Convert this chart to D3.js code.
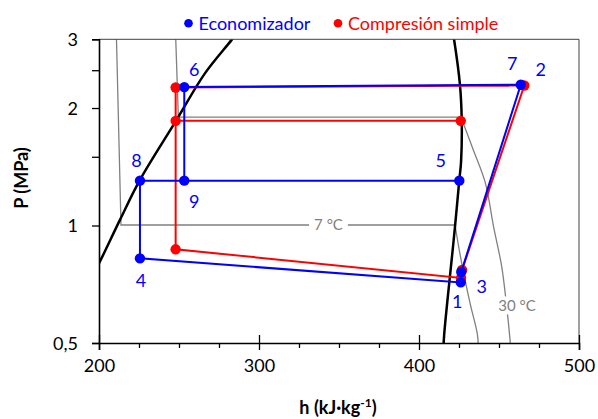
<!DOCTYPE html>
<html><head><meta charset="utf-8">
<script src="https://cdn.jsdelivr.net/npm/d3@7"></script>
<style>
body{margin:0;background:#fff}
svg{display:block}
text{font-family:Lato,"Open Sans",sans-serif}
</style>
</head><body>
<svg id="chart" width="598" height="419"></svg>
<script>
// ---------- data ----------
const xTickValues = [200, 300, 400, 500];
const xMinorTickValues = [225, 250, 275, 325, 350, 375, 425, 450, 475];
const yTickValues = [0.5, 1, 1.5, 2, 2.5, 3];
const yTickLabels = ["0,5", "1", "", "2", "", "3"];
const seriesNames = ["Economizador", "Compresión simple"];

// Economizador cycle states
const econLabels = ["1", "3", "7", "6", "9", "5", "8", "4"];
const econH = [426.1, 426.4, 463.6, 253.3, 253.3, 425.2, 225.6, 225.6];
const econP = [0.715, 0.760, 2.294, 2.263, 1.303, 1.303, 1.303, 0.824];
const econPathOrder = ["5", "8", "4", "1", "3", "7", "6", "9"];

// Compresión simple cycle states
const simpleLabels = ["a", "b", "c", "d", "2", "f", "g"];
const simpleH = [247.9, 247.9, 426.3, 426.9, 465.8, 247.9, 426.1];
const simpleP = [2.257, 0.869, 0.734, 0.769, 2.284, 1.854, 1.854];
const simplePathOrder = ["a", "b", "c", "d", "2", "a"];
const simpleSegment = ["f", "g"];

// saturation dome
const liqH = [194.0, 200.0, 213.1, 225.6, 248.1, 266.3, 282.9, 287.0];
const liqP = [0.72, 0.80, 1.034, 1.309, 1.854, 2.457, 2.99, 3.15];
const vapH = [415.2, 415.8, 420.4, 422.5, 425.2, 426.3, 426.7, 425.6, 421.9, 421.0];
const vapP = [0.48, 0.529, 0.816, 0.993, 1.309, 1.458, 1.865, 2.294, 3.0, 3.15];

// isotherms
const iso7Label = "7 °C";
const iso7StraightH = [210.8, 213.75, 422.5];
const iso7StraightP = [3.15, 1.003, 1.003];
const iso7CurveH = [422.5, 426.7, 431.9, 436.4, 437.1];
const iso7CurveP = [1.003, 0.80, 0.633, 0.529, 0.49];

const iso30Label = "30 °C";
const iso30StraightH = [247.8, 249.6, 426.25];
const iso30StraightP = [3.15, 1.895, 1.895];
const iso30CurveH = [426.25, 433.9, 441.5, 446.6, 451.7, 454.8, 456.9, 457.2];
const iso30CurveP = [1.895, 1.563, 1.284, 0.993, 0.785, 0.620, 0.509, 0.49];

// ---------- layout ----------
const W = 598, H = 419;
const L = 99, R = 579, T = 39.3, B = 343;
const BLUE = "#0000ff", RED = "#ff0000", GRAY = "#808080";
const labelOffsets = {"1":[-3.5,19.5],"3":[20.5,14.5],"7":[-8.5,-21.5],"2":[16.5,-15.5],
  "5":[-18.5,-20],"6":[10,-18],"8":[-3.5,-20.5],"9":[10,21],"4":[1,22.5]};

const svg = d3.select("#chart");
const x = d3.scaleLinear().domain([200, 500]).range([L, R]);
const y = d3.scaleLog().domain([0.5, 3]).range([B, T]);

svg.append("defs").append("clipPath").attr("id","clip")
  .append("rect").attr("x",L).attr("y",T).attr("width",R-L).attr("height",B-T);

const plot = svg.append("g").attr("clip-path","url(#clip)");

const lin = d3.line().x(d=>x(d[0])).y(d=>y(d[1]));
const curv = d3.line().x(d=>x(d[0])).y(d=>y(d[1])).curve(d3.curveCatmullRom.alpha(0.5));
const zip = (a,b)=>a.map((v,i)=>[v,b[i]]);

// isotherms
[[iso7StraightH,iso7StraightP,iso7CurveH,iso7CurveP],[iso30StraightH,iso30StraightP,iso30CurveH,iso30CurveP]]
.forEach(([sh,sp,ch,cp])=>{
  plot.append("path").attr("d",lin(zip(sh,sp))).attr("fill","none").attr("stroke",GRAY).attr("stroke-width",1.3);
  plot.append("path").attr("d",curv(zip(ch,cp))).attr("fill","none").attr("stroke",GRAY).attr("stroke-width",1.3);
});

// saturation dome
plot.append("path").attr("d",curv(zip(liqH,liqP))).attr("fill","none").attr("stroke","#000").attr("stroke-width",2.5);
plot.append("path").attr("d",curv(zip(vapH,vapP))).attr("fill","none").attr("stroke","#000").attr("stroke-width",2.5);

// isotherm labels with white background
function isoLabel(txt, cx, cy){
  const g = svg.append("g");
  const t = g.append("text").attr("x",cx).attr("y",cy).attr("dy","0.36em").attr("text-anchor","middle")
    .attr("font-size",15).attr("fill",GRAY).text(txt);
  const bb = t.node().getBBox();
  g.insert("rect","text").attr("x",bb.x-5).attr("y",bb.y).attr("width",bb.width+10).attr("height",bb.height).attr("fill","#fff");
}
isoLabel(iso7Label, 328.5, y(iso7StraightP[2]));
isoLabel(iso30Label, 517, 306);

// cycles
const sIdx = Object.fromEntries(simpleLabels.map((l,i)=>[l,i]));
const eIdx = Object.fromEntries(econLabels.map((l,i)=>[l,i]));
const sPt = l=>[simpleH[sIdx[l]], simpleP[sIdx[l]]];
const ePt = l=>[econH[eIdx[l]], econP[eIdx[l]]];

const cyc = svg.append("g");
cyc.append("path").attr("d",lin(simplePathOrder.map(sPt))).attr("fill","none").attr("stroke",RED).attr("stroke-width",2);
cyc.append("path").attr("d",lin(simpleSegment.map(sPt))).attr("fill","none").attr("stroke",RED).attr("stroke-width",2);
cyc.selectAll("circle.s").data(simpleLabels).join("circle").attr("class","s")
  .attr("cx",l=>x(sPt(l)[0])).attr("cy",l=>y(sPt(l)[1])).attr("r",5.2).attr("fill",RED);

cyc.append("path").attr("d",lin(econPathOrder.map(ePt))).attr("fill","none").attr("stroke",BLUE).attr("stroke-width",2);
cyc.selectAll("circle.e").data(econLabels).join("circle").attr("class","e")
  .attr("cx",l=>x(ePt(l)[0])).attr("cy",l=>y(ePt(l)[1])).attr("r",5.2).attr("fill",BLUE);

// point labels
const allLabels = econLabels.map(l=>({l, p:ePt(l)})).concat([{l:"2", p:sPt("2")}]);
svg.selectAll("text.pl").data(allLabels).join("text").attr("class","pl")
  .attr("x",d=>x(d.p[0])+labelOffsets[d.l][0]).attr("y",d=>y(d.p[1])+labelOffsets[d.l][1])
  .attr("dy","0.36em").attr("text-anchor","middle").attr("font-size",18).attr("fill",BLUE).text(d=>d.l);

// frame
svg.append("path").attr("d",`M${L},${T}H${R}V${B}`).attr("fill","none").attr("stroke","#404040").attr("stroke-width",1);

// axes
const xAxis = svg.append("g").attr("transform",`translate(0,${B})`)
  .call(d3.axisBottom(x).tickValues(xTickValues).tickSize(7).tickPadding(9).tickFormat(d3.format("d")));
svg.append("g").attr("transform",`translate(0,${B})`)
  .call(d3.axisBottom(x).tickValues(xTickValues).tickSize(-8).tickFormat(""))
  .call(g=>g.select(".domain").remove());
svg.append("g").attr("transform",`translate(0,${B})`)
  .call(d3.axisBottom(x).tickValues(xMinorTickValues).tickSize(5).tickFormat(""))
  .call(g=>g.select(".domain").remove());
const yAxis = svg.append("g").attr("transform",`translate(${L},0)`)
  .call(d3.axisLeft(y).tickValues(yTickValues).tickSize(7).tickPadding(14)
    .tickFormat((d,i)=>yTickLabels[i]));
svg.selectAll(".domain").attr("stroke","#000").attr("stroke-width",1.6);
svg.selectAll(".tick line").attr("stroke","#000").attr("stroke-width",1.3);
svg.selectAll(".tick text").attr("font-size",18).attr("fill","#000").attr("font-family","Lato");
yAxis.selectAll(".tick text").attr("dy","0.36em");

// axis titles
svg.append("text").attr("transform","translate(28,178) rotate(-90)").attr("text-anchor","middle")
  .attr("font-size",18).attr("font-weight","bold").text("P (MPa)");
const xt = svg.append("text").attr("x",338).attr("y",414).attr("text-anchor","middle")
  .attr("font-size",18).attr("font-weight","bold");
xt.append("tspan").text("h (kJ·kg");
xt.append("tspan").attr("font-size",12).attr("dy",-7).text("-1");
xt.append("tspan").attr("dy",7).text(")");

// legend
const legendX = [188.5, 338];
const legendColors = [BLUE, RED];
const lg = svg.append("g");
seriesNames.forEach((n,i)=>{
  lg.append("circle").attr("cx",legendX[i]).attr("cy",23.3).attr("r",4.3).attr("fill",legendColors[i]);
  lg.append("text").attr("x",legendX[i]+10).attr("y",23.3).attr("dy","0.36em").attr("font-size",18)
    .attr("fill",legendColors[i]).text(n);
});
</script>
</body></html>
